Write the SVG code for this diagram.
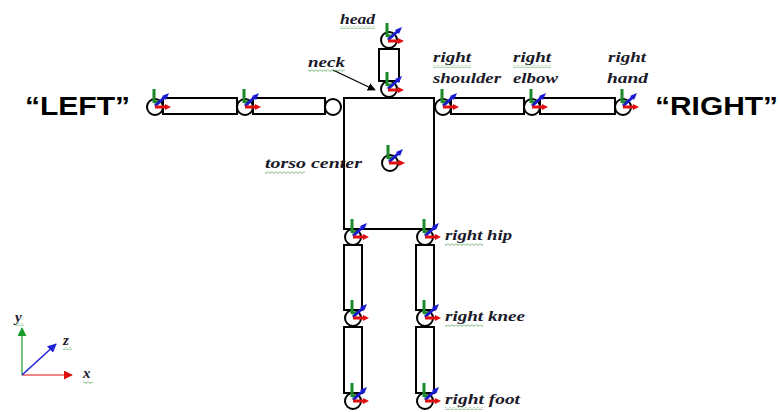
<svg xmlns="http://www.w3.org/2000/svg" width="780" height="412" viewBox="0 0 780 412">
<style>
.bar{fill:#fff;stroke:#000;stroke-width:2}
.jt{fill:#fff;stroke:#000;stroke-width:2}
.lbl{font-family:"Liberation Serif",serif;font-style:italic;font-weight:bold;font-size:15px;fill:#1a1a2a}
.big{font-family:"Liberation Sans",Arial,sans-serif;font-weight:bold;font-size:26px;fill:#000}
.sq{fill:url(#squig)}
</style>
<defs>
<pattern id="squig" width="4" height="3" patternUnits="userSpaceOnUse">
<path d="M0 0.5 L2 2.5 L4 0.5" fill="none" stroke="#5aa55a" stroke-width="0.9"/>
</pattern>
<g id="triad">
<path d="M-2 -3 V-17 M-2 -4 H3" stroke="#1a8a2a" stroke-width="3" fill="none"/>
<line x1="-1" y1="0" x2="10" y2="-10" stroke="#1a1ad0" stroke-width="3"/>
<polygon points="13,-13 6,-10 10,-6" fill="#1a1ad0"/>
<line x1="-1" y1="1" x2="11" y2="1" stroke="#e01010" stroke-width="3"/>
<polygon points="15,1 9,-2 9,4" fill="#e01010"/>
</g>
<marker id="ah" viewBox="0 0 10 10" refX="9" refY="5" markerWidth="8" markerHeight="8" markerUnits="userSpaceOnUse" orient="auto">
<path d="M0 0 L10 5 L0 10 z" fill="#000"/>
</marker>
<marker id="ag" viewBox="0 0 10 10" refX="9" refY="5" markerWidth="9" markerHeight="9" markerUnits="userSpaceOnUse" orient="auto">
<path d="M0 0 L10 5 L0 10 z" fill="#1a9a2a"/>
</marker>
<marker id="ar" viewBox="0 0 10 10" refX="9" refY="5" markerWidth="9" markerHeight="9" markerUnits="userSpaceOnUse" orient="auto">
<path d="M0 0 L10 5 L0 10 z" fill="#e01010"/>
</marker>
<marker id="ab" viewBox="0 0 10 10" refX="9" refY="5" markerWidth="9" markerHeight="9" markerUnits="userSpaceOnUse" orient="auto">
<path d="M0 0 L10 5 L0 10 z" fill="#2020d8"/>
</marker>
</defs>
<rect width="780" height="412" fill="#fff"/>

<g id="connectors">
<rect class="bar" x="379" y="49" width="20" height="32"/>
<rect class="bar" x="163" y="98" width="74" height="16"/>
<rect class="bar" x="253" y="98" width="72" height="16"/>
<rect class="bar" x="451" y="98" width="73" height="16"/>
<rect class="bar" x="540" y="98" width="75" height="16"/>
<rect class="bar" x="344" y="245" width="18" height="65"/>
<rect class="bar" x="344" y="327" width="18" height="66"/>
<rect class="bar" x="416" y="245" width="18" height="65"/>
<rect class="bar" x="416" y="327" width="18" height="66"/>
<line x1="333" y1="70" x2="375" y2="90" stroke="#000" stroke-width="1.3" marker-end="url(#ah)"/>
</g>

<g id="torso">
<rect x="344" y="98" width="90" height="131" fill="#fff" stroke="#000" stroke-width="2"/>
</g>

<g id="head"><circle class="jt" cx="389" cy="40" r="8"/><use href="#triad" x="389" y="40"/>
<text class="lbl" x="340" y="24" textLength="35" lengthAdjust="spacingAndGlyphs">head</text><rect class="sq" x="340" y="26" width="35" height="3"/></g>
<g id="neck"><circle class="jt" cx="389" cy="89" r="8"/><use href="#triad" x="389" y="89"/>
<text class="lbl" x="308" y="67" textLength="37" lengthAdjust="spacingAndGlyphs">neck</text><rect class="sq" x="308" y="69" width="37" height="3"/></g>

<g id="left-hand"><circle class="jt" cx="155" cy="107" r="8"/><use href="#triad" x="156" y="106"/></g>
<g id="left-elbow"><circle class="jt" cx="245" cy="107" r="8"/><use href="#triad" x="246" y="106"/></g>
<g id="left-shoulder"><circle class="jt" cx="333" cy="107" r="8"/></g>

<g id="right-shoulder"><circle class="jt" cx="443" cy="107" r="8"/><use href="#triad" x="444" y="106"/>
<text class="lbl" x="433" y="62" textLength="38" lengthAdjust="spacingAndGlyphs">right</text><rect class="sq" x="433" y="65" width="38" height="3"/>
<text class="lbl" x="433" y="83" textLength="68" lengthAdjust="spacingAndGlyphs">shoulder</text></g>
<g id="right-elbow"><circle class="jt" cx="532" cy="107" r="8"/><use href="#triad" x="533" y="106"/>
<text class="lbl" x="513" y="62" textLength="38" lengthAdjust="spacingAndGlyphs">right</text><rect class="sq" x="513" y="65" width="38" height="3"/>
<text class="lbl" x="513" y="83" textLength="45" lengthAdjust="spacingAndGlyphs">elbow</text></g>
<g id="right-hand"><circle class="jt" cx="623" cy="107" r="8"/><use href="#triad" x="624" y="106"/>
<text class="lbl" x="608" y="62" textLength="38" lengthAdjust="spacingAndGlyphs">right</text>
<text class="lbl" x="607" y="83" textLength="41" lengthAdjust="spacingAndGlyphs">hand</text></g>

<g id="torso-center"><circle class="jt" cx="390" cy="163" r="8"/><use href="#triad" x="390" y="162"/>
<text class="lbl" x="265" y="168" textLength="97" lengthAdjust="spacingAndGlyphs">torso center</text><rect class="sq" x="265" y="171" width="40" height="3"/></g>

<g id="left-hip"><circle class="jt" cx="353" cy="237" r="8"/><use href="#triad" x="354" y="236"/></g>
<g id="right-hip"><circle class="jt" cx="425" cy="237" r="8"/><use href="#triad" x="426" y="236"/>
<text class="lbl" x="445" y="240" textLength="67" lengthAdjust="spacingAndGlyphs">right hip</text><rect class="sq" x="445" y="243" width="38" height="3"/></g>
<g id="left-knee"><circle class="jt" cx="353" cy="318" r="8"/><use href="#triad" x="354" y="317"/></g>
<g id="right-knee"><circle class="jt" cx="425" cy="318" r="8"/><use href="#triad" x="426" y="317"/>
<text class="lbl" x="445" y="321" textLength="80" lengthAdjust="spacingAndGlyphs">right knee</text><rect class="sq" x="445" y="324" width="38" height="3"/></g>
<g id="left-foot"><circle class="jt" cx="353" cy="401" r="8"/><use href="#triad" x="354" y="400"/></g>
<g id="right-foot"><circle class="jt" cx="425" cy="401" r="8"/><use href="#triad" x="426" y="400"/>
<text class="lbl" x="445" y="404" textLength="75" lengthAdjust="spacingAndGlyphs">right foot</text><rect class="sq" x="445" y="407" width="38" height="3"/></g>

<g id="left-label"><text class="big" x="25" y="115" textLength="105" lengthAdjust="spacingAndGlyphs">“LEFT”</text></g>
<g id="right-label"><text class="big" x="655" y="115" textLength="123" lengthAdjust="spacingAndGlyphs">“RIGHT”</text></g>

<g id="axes">
<line x1="22" y1="375" x2="22" y2="328" stroke="#1a9a2a" stroke-width="1.2" marker-end="url(#ag)"/>
<line x1="22" y1="375" x2="72" y2="375" stroke="#e01010" stroke-width="1.2" marker-end="url(#ar)"/>
<line x1="22" y1="375" x2="56" y2="344" stroke="#2020d8" stroke-width="1.5" marker-end="url(#ab)"/>
<text class="lbl" x="15" y="322">y</text><rect class="sq" x="15" y="323" width="9" height="3"/>
<text class="lbl" x="63" y="345">z</text><rect class="sq" x="63" y="347" width="9" height="3"/>
<text class="lbl" x="83" y="378">x</text><rect class="sq" x="83" y="381" width="10" height="3"/>
</g>
</svg>
